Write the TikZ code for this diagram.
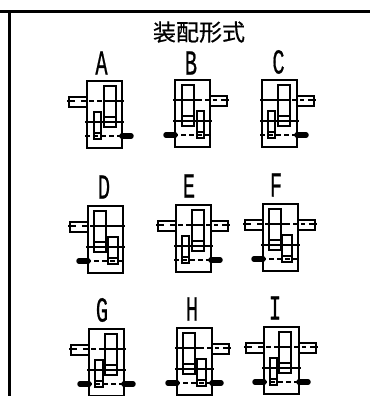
\documentclass[tikz,border=0pt]{standalone}
\usepackage{fontspec}
\setmainfont{Liberation Mono}
\newfontfamily\cjkfont[FakeBold=0.6]{Noto Sans CJK SC}
\newfontfamily\letterfont[FakeBold=0.8]{Liberation Mono}
\tikzset{
  ln/.style={line width=1.9pt,black},
  thin ln/.style={line width=1.5pt,black},
  dash ln/.style={line width=1.7pt,black,dash pattern=on 5pt off 3pt},
  frame ln/.style={line width=3pt,black},
  outshaft/.style={line width=5.5pt,black,line cap=round},
  letter/.style={inner sep=0pt,font=\letterfont\fontsize{35}{35}\selectfont},
  title/.style={inner sep=0pt,font=\cjkfont\fontsize{23}{23}\selectfont}
}
% left, top, big-gear x, small-gear x, small-gear width, left stub, right stub, out side L, out side R
\newcommand{\gearbox}[9]{%
\begin{scope}[shift={(#1,#2)}]
  \draw[ln] (0,0) rectangle (35,67);
  \draw[ln] (#3,5) rectangle ++(12,41);
  \draw[ln] (#3,36) -- ++(12,0);
  \draw[ln] (#4,31) rectangle ++(#5,27);
  \draw[thin ln] (#4,52) -- ++(#5,0);
  \draw[ln] (-2,41) -- (37,41);
  \draw[dash ln] (-2,55) -- (35,55);
  \ifnum#6=1
    \draw[ln] (0,16) -- (-18,16) -- (-18,26) -- (0,26);
    \draw[ln] (-20,20) -- (-12,20);
    \draw[dash ln] (-6,20) -- (#3,20);
  \else
    \draw[ln] (-2,20) -- (#3,20);
  \fi
  \draw[ln] (#3,20) -- (\ifnum#7=1 22\else 37\fi,20);
  \ifnum#7=1
    \draw[dash ln] (22,20) -- (42,20);
    \draw[ln] (35,16) -- (52,16) -- (52,26) -- (35,26);
    \draw[ln] (46,20) -- (54,20);
  \fi
  \ifnum#8=1 \draw[outshaft] (-9,55) -- (0,55); \fi
  \ifnum#9=1 \draw[outshaft] (35,55) -- (44,55); \fi
\end{scope}}
\begin{document}
\begin{tikzpicture}[x=1pt,y=-1pt]
\useasboundingbox (0,0) rectangle (370,396);
\fill[white] (0,0) rectangle (370,396);
\coordinate (tl) at (0,11.5);
\coordinate (tr) at (370,11.5);
\coordinate (vt) at (9.5,11.5);
\coordinate (vb) at (9.5,396);
\draw[frame ln] (tl) -- (tr);
\draw[frame ln] (vt) -- (vb);
\node[title] (ttl) at (199,32) {装配形式};
\node[letter] (la) at (101.5,63) {\scalebox{.58}[1]{A}};
\node[letter] (lb) at (191,63) {\scalebox{.58}[1]{B}};
\node[letter] (lc) at (278.5,62) {\scalebox{.58}[1]{C}};
\node[letter] (ld) at (104,187) {\scalebox{.58}[1]{D}};
\node[letter] (le) at (189,186) {\scalebox{.58}[1]{E}};
\node[letter] (lf) at (276,185) {\scalebox{.58}[1]{F}};
\node[letter] (lg) at (102,310) {\scalebox{.58}[1]{G}};
\node[letter] (lh) at (192,309) {\scalebox{.58}[1]{H}};
\node[letter] (li) at (275,308) {\scalebox{.58}[1]{I}};
\gearbox{87}{81}{17}{7}{7}{1}{0}{0}{1}
\gearbox{175}{80}{7}{22}{7}{0}{1}{1}{0}
\gearbox{262}{80}{16}{6}{7}{0}{1}{0}{1}
\gearbox{88}{206}{6}{20}{10}{1}{0}{1}{0}
\gearbox{176}{205}{16}{6}{7}{1}{1}{0}{1}
\gearbox{263}{204}{6}{19}{10}{1}{1}{1}{0}
\gearbox{89}{329}{16}{6}{8}{1}{0}{1}{1}
\gearbox{177}{328}{6}{20}{9}{0}{1}{1}{1}
\gearbox{264}{327}{15}{6}{7}{1}{1}{1}{1}
\end{tikzpicture}
\end{document}
